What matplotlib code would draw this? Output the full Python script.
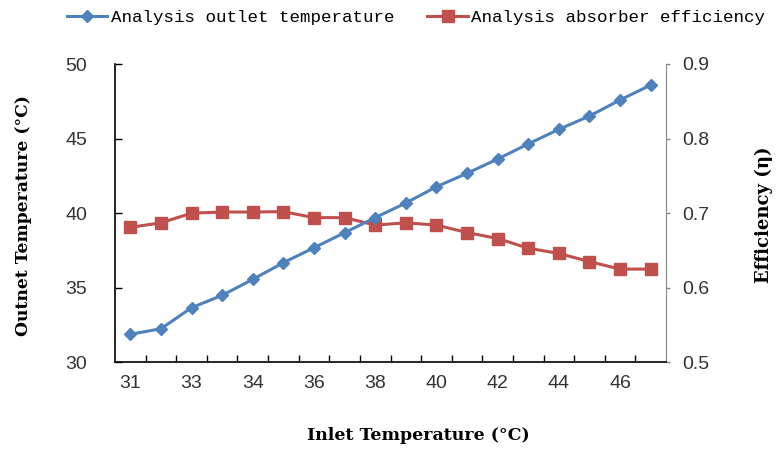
import numpy as np
import matplotlib.pyplot as plt
from matplotlib.ticker import FixedLocator

# inlet temperatures (categories) and analysis results
inlet = [31, 32, 33, 33.5, 34, 35, 36, 37, 38, 39, 40, 41, 42, 43, 44, 45, 46, 47]
tick_labels = ['31', '33', '34', '36', '38', '40', '42', '44', '46']
outlet_temp = [31.88, 32.25, 33.66, 34.49, 35.56, 36.68, 37.68, 38.69, 39.70,
               40.68, 41.77, 42.67, 43.63, 44.64, 45.62, 46.51, 47.59, 48.59]
efficiency = [0.681, 0.687, 0.700, 0.7015, 0.7015, 0.702, 0.694, 0.694, 0.684,
              0.687, 0.684, 0.674, 0.666, 0.653, 0.646, 0.635, 0.625, 0.625]

blue = '#4F81BD'
red = '#C0504D'
tick_font = ['Liberation Sans Narrow', 'Liberation Sans', 'DejaVu Sans']
label_font = ['DejaVu Serif']
legend_font = ['Liberation Mono', 'DejaVu Sans Mono']

fig = plt.figure(figsize=(7.76, 4.53), dpi=100)
ax = fig.add_axes([115/776, 1 - 362.3/453, 551/776, 298.3/453])
ax2 = ax.twinx()

x = np.arange(len(inlet))
l1, = ax.plot(x, outlet_temp, color=blue, lw=2.2, marker='D', ms=6,
              label='Analysis outlet temperature')
l2, = ax2.plot(x, efficiency, color=red, lw=2.2, marker='s', ms=8.5,
               label='Analysis absorber efficiency')
ax.set_zorder(ax2.get_zorder() + 1)
ax.patch.set_visible(False)

ax.set_xlim(-0.5, len(inlet) - 0.5)
ax.set_ylim(30, 50)
ax2.set_ylim(0.5, 0.9)
ax.set_yticks([30, 35, 40, 45, 50])
ax2.set_yticks([0.5, 0.6, 0.7, 0.8, 0.9])
ax2.set_yticklabels(['0.5', '0.6', '0.7', '0.8', '0.9'])

ax.set_xticks(x[::2])
ax.set_xticklabels(tick_labels)
ax.xaxis.set_minor_locator(FixedLocator(np.arange(0.5, len(inlet) - 1, 1)))
ax.tick_params(axis='x', which='major', length=0, pad=9)
ax.tick_params(axis='x', which='minor', direction='in', length=5, width=1)
ax.tick_params(axis='y', direction='in', length=5, width=1, pad=20)
ax2.tick_params(axis='y', direction='out', length=3, width=1, color='#868686', pad=9)

for lab in ax.get_xticklabels() + ax.get_yticklabels() + ax2.get_yticklabels():
    lab.set_family(tick_font)
    lab.set_fontsize(14)
    lab.set_color('#333333')
    lab.set_stretch('condensed')

for a in (ax, ax2):
    a.spines['top'].set_visible(False)
ax.spines['right'].set_visible(False)
ax2.spines['left'].set_visible(False)
ax2.spines['bottom'].set_visible(False)
ax2.spines['right'].set_color('#868686')
ax.spines['left'].set_linewidth(1.2)
ax.spines['bottom'].set_linewidth(1.2)

fig.text(24/776, 1 - 216/453, 'Outnet Temperature (°C)', rotation=90, ha='center',
         va='center', family=label_font, fontweight='bold', fontsize=12.3)
fig.text(764/776, 1 - 215/453, 'Efficiency (η)', rotation=90, ha='center',
         va='center', family=label_font, fontweight='bold', fontsize=13)
fig.text(418/776, 1 - 436/453, 'Inlet Temperature (°C)', ha='center', va='center',
         family=label_font, fontweight='bold', fontsize=12.5)

fig.legend(handles=[l1, l2], loc='center', bbox_to_anchor=(416/776, 1 - 17/453),
           ncol=2, frameon=False, handlelength=2.3, handletextpad=0.2,
           columnspacing=1.9, prop={'family': legend_font, 'size': 12.6})

fig.savefig('out.png', dpi=100)
